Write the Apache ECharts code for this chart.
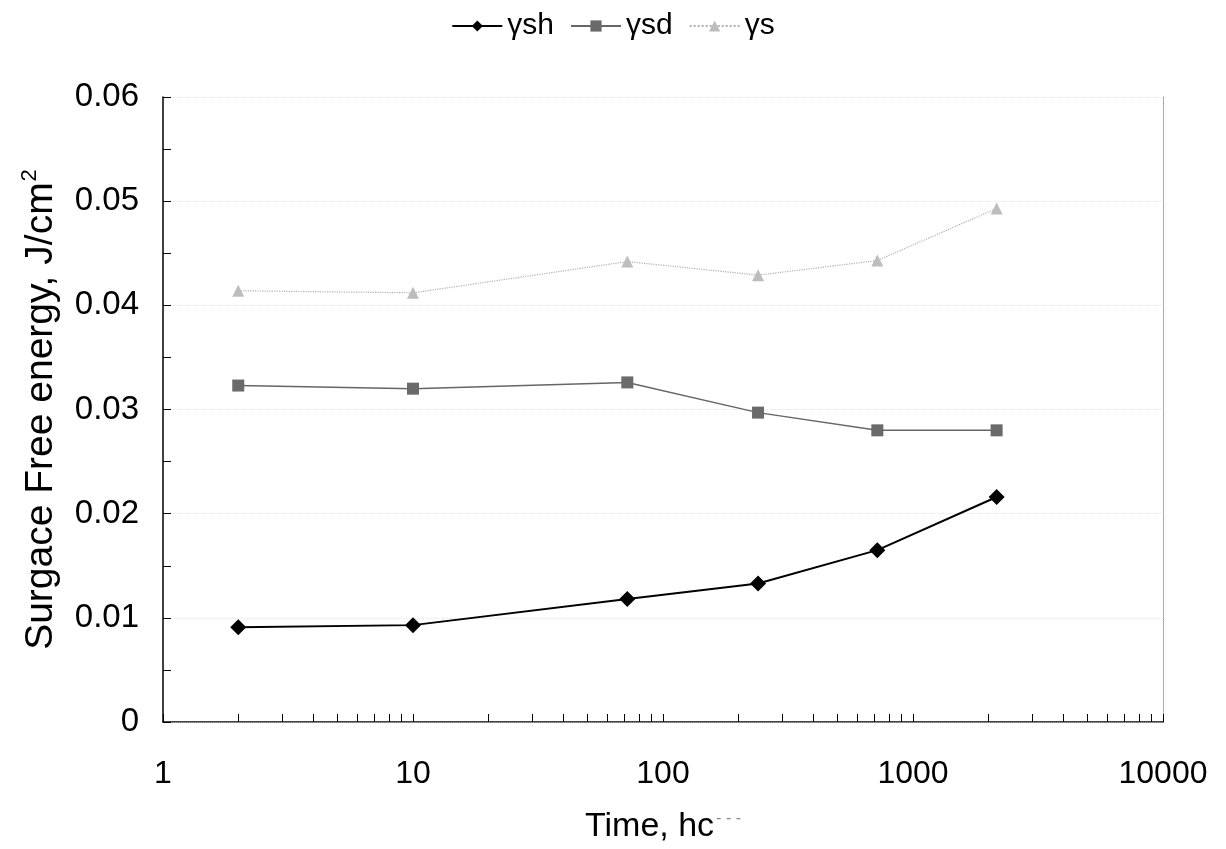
<!DOCTYPE html>
<html>
<head>
<meta charset="utf-8">
<script src="https://cdn.jsdelivr.net/npm/echarts@6/dist/echarts.min.js"></script>
<style>
  html, body { margin: 0; padding: 0; background: #fff; }
  #chart { width: 1226px; height: 849px; }
</style>
</head>
<body>
<div id="chart"></div>
<script>
// time in hours
var times = [2, 10, 72, 240, 720, 2160];
var ysh = [0.0091, 0.0093, 0.0118, 0.0133, 0.0165, 0.0216];
var ysd = [0.0323, 0.0320, 0.0326, 0.0297, 0.0280, 0.0280];
var ys = [0.0414, 0.0412, 0.0442, 0.0429, 0.0443, 0.0493];
var xTickLabels = [1, 10, 100, 1000, 10000];

// log ticks 1,2,...9,10,20,...
var logTicks = [];
for (var d = 1; d < 10000; d *= 10) {
  for (var k = 1; k < 10; k++) logTicks.push(k * d);
}
logTicks.push(10000);

function pairs(vals) {
  return times.map(function (t, i) { return [t, vals[i]]; });
}

var fontFam = 'Liberation Sans, Arial, sans-serif';
var myChart = echarts.init(document.getElementById('chart'));

var option = {
  animation: false,
  textStyle: { fontFamily: fontFam },
  legend: {
    top: 6,
    left: 'center',
    itemWidth: 50,
    itemHeight: 14,
    itemGap: 16,
    textStyle: { fontSize: 30, color: '#000', fontFamily: fontFam },
    data: ['γsh', 'γsd', 'γs']
  },
  grid: { left: 163, right: 63, top: 97, bottom: 124, borderWidth: 0 },
  xAxis: [{
    type: 'log',
    logBase: 10,
    min: 1,
    max: 10000,
    position: 'bottom',
    name: 'Time, hc{d|- - -}',
    nameLocation: 'middle',
    nameGap: 88,
    nameTextStyle: {
      fontSize: 34, color: '#000', fontFamily: fontFam,
      rich: { d: { fontSize: 16, color: '#888', padding: [0, 0, 16, 2] } }
    },
    axisLine: { show: true, lineStyle: { color: '#000', width: 1.5 } },
    axisTick: { show: true, inside: true, length: 8, customValues: logTicks, lineStyle: { color: '#000' } },
    minorTick: { show: false },
    axisLabel: {
      fontSize: 32, color: '#000', margin: 36, customValues: xTickLabels, fontFamily: fontFam,
      formatter: function (v) { return String(v); }
    },
    splitLine: { show: false }
  }, {
    type: 'log',
    logBase: 10,
    min: 1,
    max: 10000,
    position: 'top',
    axisLine: { show: true, lineStyle: { color: '#999', width: 1, type: 'dotted' } },
    axisTick: { show: false },
    axisLabel: { show: false },
    splitLine: { show: false }
  }],
  yAxis: [{
    type: 'value',
    min: 0,
    max: 0.06,
    interval: 0.01,
    position: 'left',
    name: 'Surgace Free energy, J/cm{s|2}',
    nameLocation: 'middle',
    nameGap: 100,
    nameTextStyle: {
      fontSize: 39, color: '#000', fontFamily: fontFam,
      rich: { s: { fontSize: 22, color: '#000', verticalAlign: 'top', padding: [0, 0, 22, 1] } }
    },
    axisLine: { show: true, lineStyle: { color: '#000', width: 1.5 } },
    axisTick: { show: true, inside: true, length: 8, lineStyle: { color: '#000' } },
    minorTick: { show: true, splitNumber: 2, length: 8, lineStyle: { color: '#000' } },
    axisLabel: { fontSize: 33, color: '#000', margin: 24, fontFamily: fontFam },
    splitLine: { show: true, lineStyle: { color: '#e6e6e6', type: 'dotted', width: 1 } }
  }, {
    type: 'value',
    min: 0,
    max: 0.06,
    interval: 0.01,
    position: 'right',
    axisLine: { show: true, lineStyle: { color: '#999', width: 1, type: 'dotted' } },
    axisTick: { show: false },
    axisLabel: { show: false },
    splitLine: { show: false }
  }],
  series: [{
    name: 'γsh',
    type: 'line',
    data: pairs(ysh),
    symbol: 'diamond',
    symbolSize: 16,
    lineStyle: { color: '#000', width: 2 },
    itemStyle: { color: '#000' }
  }, {
    name: 'γsd',
    type: 'line',
    data: pairs(ysd),
    symbol: 'rect',
    symbolSize: 12,
    lineStyle: { color: '#666', width: 1.5 },
    itemStyle: { color: '#6a6a6a' }
  }, {
    name: 'γs',
    type: 'line',
    data: pairs(ys),
    symbol: 'triangle',
    symbolSize: 12,
    lineStyle: { color: '#b0b0b0', width: 1.2, type: 'dotted' },
    itemStyle: { color: '#bdbdbd' }
  }]
};

if (option && typeof option === "object") {
  myChart.setOption(option, true);
}
</script>
</body>
</html>
